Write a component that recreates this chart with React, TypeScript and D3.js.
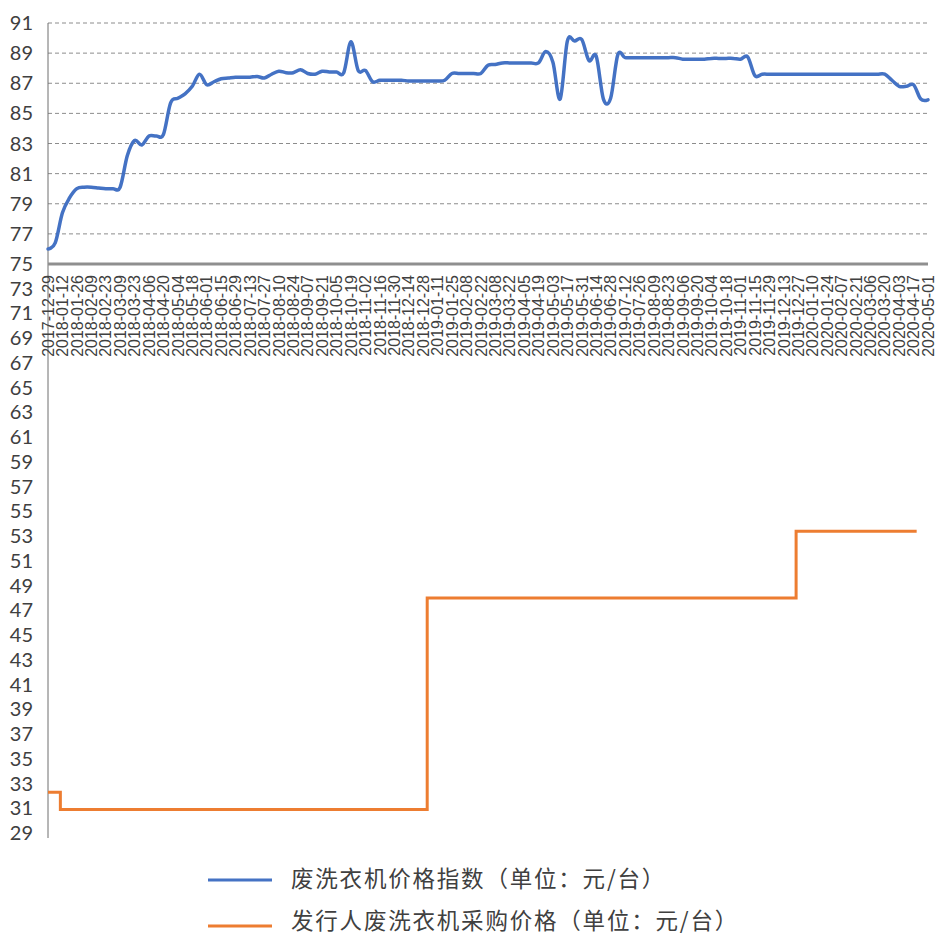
import React from 'react';
import * as d3 from 'd3';

const weekDates: string[] = [
  '2017-12-29',
  '2018-01-05', '2018-01-12', '2018-01-19', '2018-01-26',
  '2018-02-02', '2018-02-09', '2018-02-16', '2018-02-23',
  '2018-03-02', '2018-03-09', '2018-03-16', '2018-03-23', '2018-03-30',
  '2018-04-06', '2018-04-13', '2018-04-20', '2018-04-27',
  '2018-05-04', '2018-05-11', '2018-05-18', '2018-05-25',
  '2018-06-01', '2018-06-08', '2018-06-15', '2018-06-22', '2018-06-29',
  '2018-07-06', '2018-07-13', '2018-07-20', '2018-07-27',
  '2018-08-03', '2018-08-10', '2018-08-17', '2018-08-24', '2018-08-31',
  '2018-09-07', '2018-09-14', '2018-09-21', '2018-09-28',
  '2018-10-05', '2018-10-12', '2018-10-19', '2018-10-26',
  '2018-11-02', '2018-11-09', '2018-11-16', '2018-11-23', '2018-11-30',
  '2018-12-07', '2018-12-14', '2018-12-21', '2018-12-28',
  '2019-01-04', '2019-01-11', '2019-01-18', '2019-01-25',
  '2019-02-01', '2019-02-08', '2019-02-15', '2019-02-22',
  '2019-03-01', '2019-03-08', '2019-03-15', '2019-03-22', '2019-03-29',
  '2019-04-05', '2019-04-12', '2019-04-19', '2019-04-26',
  '2019-05-03', '2019-05-10', '2019-05-17', '2019-05-24', '2019-05-31',
  '2019-06-07', '2019-06-14', '2019-06-21', '2019-06-28',
  '2019-07-05', '2019-07-12', '2019-07-19', '2019-07-26',
  '2019-08-02', '2019-08-09', '2019-08-16', '2019-08-23', '2019-08-30',
  '2019-09-06', '2019-09-13', '2019-09-20', '2019-09-27',
  '2019-10-04', '2019-10-11', '2019-10-18', '2019-10-25',
  '2019-11-01', '2019-11-08', '2019-11-15', '2019-11-22', '2019-11-29',
  '2019-12-06', '2019-12-13', '2019-12-20', '2019-12-27',
  '2020-01-03', '2020-01-10', '2020-01-17', '2020-01-24', '2020-01-31',
  '2020-02-07', '2020-02-14', '2020-02-21', '2020-02-28',
  '2020-03-06', '2020-03-13', '2020-03-20', '2020-03-27',
  '2020-04-03', '2020-04-10', '2020-04-17', '2020-04-24',
  '2020-05-01',
];

const priceIndex: number[] = [
  76.0, 76.4, 78.4, 79.4, 80.0, 80.1, 80.1, 80.05, 80.0, 80.0,
  80.1, 82.2, 83.2, 82.9, 83.5, 83.5, 83.6, 85.7, 86.0, 86.3,
  86.8, 87.6, 86.9, 87.1, 87.3, 87.35, 87.4, 87.4, 87.4, 87.45,
  87.35, 87.6, 87.8, 87.7, 87.7, 87.9, 87.65, 87.6, 87.8, 87.75,
  87.75, 87.7, 89.75, 87.85, 87.85, 87.1, 87.2, 87.2, 87.2, 87.2,
  87.15, 87.15, 87.15, 87.15, 87.15, 87.2, 87.65, 87.65, 87.65, 87.65,
  87.65, 88.2, 88.25, 88.35, 88.35, 88.35, 88.35, 88.35, 88.35, 89.1,
  88.4, 85.95, 89.8, 89.8, 89.9, 88.5, 88.8, 85.95, 86.0, 88.9,
  88.7, 88.7, 88.7, 88.7, 88.7, 88.7, 88.7, 88.7, 88.6, 88.6,
  88.6, 88.6, 88.65, 88.65, 88.65, 88.65, 88.6, 88.75, 87.5, 87.6,
  87.6, 87.6, 87.6, 87.6, 87.6, 87.6, 87.6, 87.6, 87.6, 87.6,
  87.6, 87.6, 87.6, 87.6, 87.6, 87.6, 87.6, 87.2, 86.8, 86.8,
  86.9, 85.95, 85.9,
];

const purchaseDates: string[] = ['2017-12-29', '2018-01-10', '2019-01-01', '2019-12-25', '2020-04-20'];
const purchasePrice: number[] = [32.3, 30.9, 48.0, 53.4, 53.4];

const upperTicks: number[] = [77, 79, 81, 83, 85, 87, 89, 91];
const lowerTicks: number[] = [29, 31, 33, 35, 37, 39, 41, 43, 45, 47, 49, 51, 53, 55, 57, 59, 61, 63, 65, 67, 69, 71, 73, 75];
const xTickLabels: string[] = weekDates.filter((_, i) => i % 2 === 0);

const seriesNames: string[] = ['废洗衣机价格指数（单位：元/台）', '发行人废洗衣机采购价格（单位：元/台）'];
const seriesColors: string[] = ['#4472C4', '#ED7D31'];

const W = 936;
const H = 937;
const plotLeft = 48;
const plotRight = 928;
const yTopPx = 23;
const yMidPx = 264;
const yBotPx = 833;

export default function App() {
  const parse = d3.timeParse('%Y-%m-%d');
  const x = d3
    .scaleTime()
    .domain([parse(weekDates[0])!, parse(weekDates[weekDates.length - 1])!])
    .range([plotLeft, plotRight]);
  const yUpper = d3.scaleLinear().domain([75, 91]).range([yMidPx, yTopPx]);
  const yLower = d3.scaleLinear().domain([29, 75]).range([yBotPx, yMidPx]);

  const blueData = weekDates.map((d, i) => ({ date: parse(d)!, v: priceIndex[i] }));
  const blueLine = d3
    .line<{ date: Date; v: number }>()
    .x((d) => x(d.date))
    .y((d) => yUpper(d.v))
    .curve(d3.curveCardinal.tension(0));

  const orangeData = purchaseDates.map((d, i) => ({ date: parse(d)!, v: purchasePrice[i] }));
  const orangeLine = d3
    .line<{ date: Date; v: number }>()
    .x((d) => x(d.date))
    .y((d) => yLower(d.v))
    .curve(d3.curveStepAfter);

  const labelFont = 'Lato, "Liberation Sans", sans-serif';
  const legendLineY = [880, 926];
  const legendTextY = [879, 921];

  return (
    <svg
      width={W}
      height={H}
      style={{ position: 'absolute', left: 0, top: 0, background: '#fff' }}
    >
      <rect x={0} y={0} width={W} height={H} fill="#fff" />
      {upperTicks.map((t) => (
        <line
          key={'g' + t}
          x1={plotLeft}
          x2={plotRight}
          y1={yUpper(t)}
          y2={yUpper(t)}
          stroke="#8c8c8c"
          strokeWidth={1}
          strokeDasharray="4,3"
        />
      ))}
      <line x1={plotLeft} x2={plotLeft} y1={yTopPx} y2={838} stroke="#6e6e6e" strokeWidth={1} />
      {upperTicks.map((t) => (
        <text
          key={'u' + t}
          x={33}
          y={yUpper(t)}
          dy="0.35em"
          textAnchor="end"
          fontFamily={labelFont}
          fontSize={20}
          fill="#404040"
        >
          {t}
        </text>
      ))}
      {lowerTicks.map((t) => (
        <text
          key={'l' + t}
          x={33}
          y={yLower(t)}
          dy="0.35em"
          textAnchor="end"
          fontFamily={labelFont}
          fontSize={20}
          fill="#404040"
        >
          {t}
        </text>
      ))}
      <line x1={plotLeft} x2={plotRight} y1={yMidPx} y2={yMidPx} stroke="#8f8f8f" strokeWidth={3} />
      {xTickLabels.map((d) => (
        <text
          key={'x' + d}
          transform={`translate(${x(parse(d)!)},${yMidPx + 11}) rotate(-90)`}
          dy="0.36em"
          textAnchor="end"
          fontFamily='"Liberation Sans", Arial, sans-serif'
          fontSize={16}
          fill="#404040"
        >
          {d}
        </text>
      ))}
      <path d={blueLine(blueData) ?? ''} fill="none" stroke={seriesColors[0]} strokeWidth={3.5} strokeLinejoin="round" strokeLinecap="round" />
      <path d={orangeLine(orangeData) ?? ''} fill="none" stroke={seriesColors[1]} strokeWidth={3} />
      {seriesNames.map((name, i) => (
        <g key={name}>
          <line x1={208} x2={272} y1={legendLineY[i]} y2={legendLineY[i]} stroke={seriesColors[i]} strokeWidth={3} />
          <text
            x={291}
            y={legendTextY[i]}
            dy="0.35em"
            fontFamily='"Noto Sans CJK SC", sans-serif'
            fontSize={22.5}
            letterSpacing={1.8}
            fill="#404040"
          >
            {name}
          </text>
        </g>
      ))}
    </svg>
  );
}
